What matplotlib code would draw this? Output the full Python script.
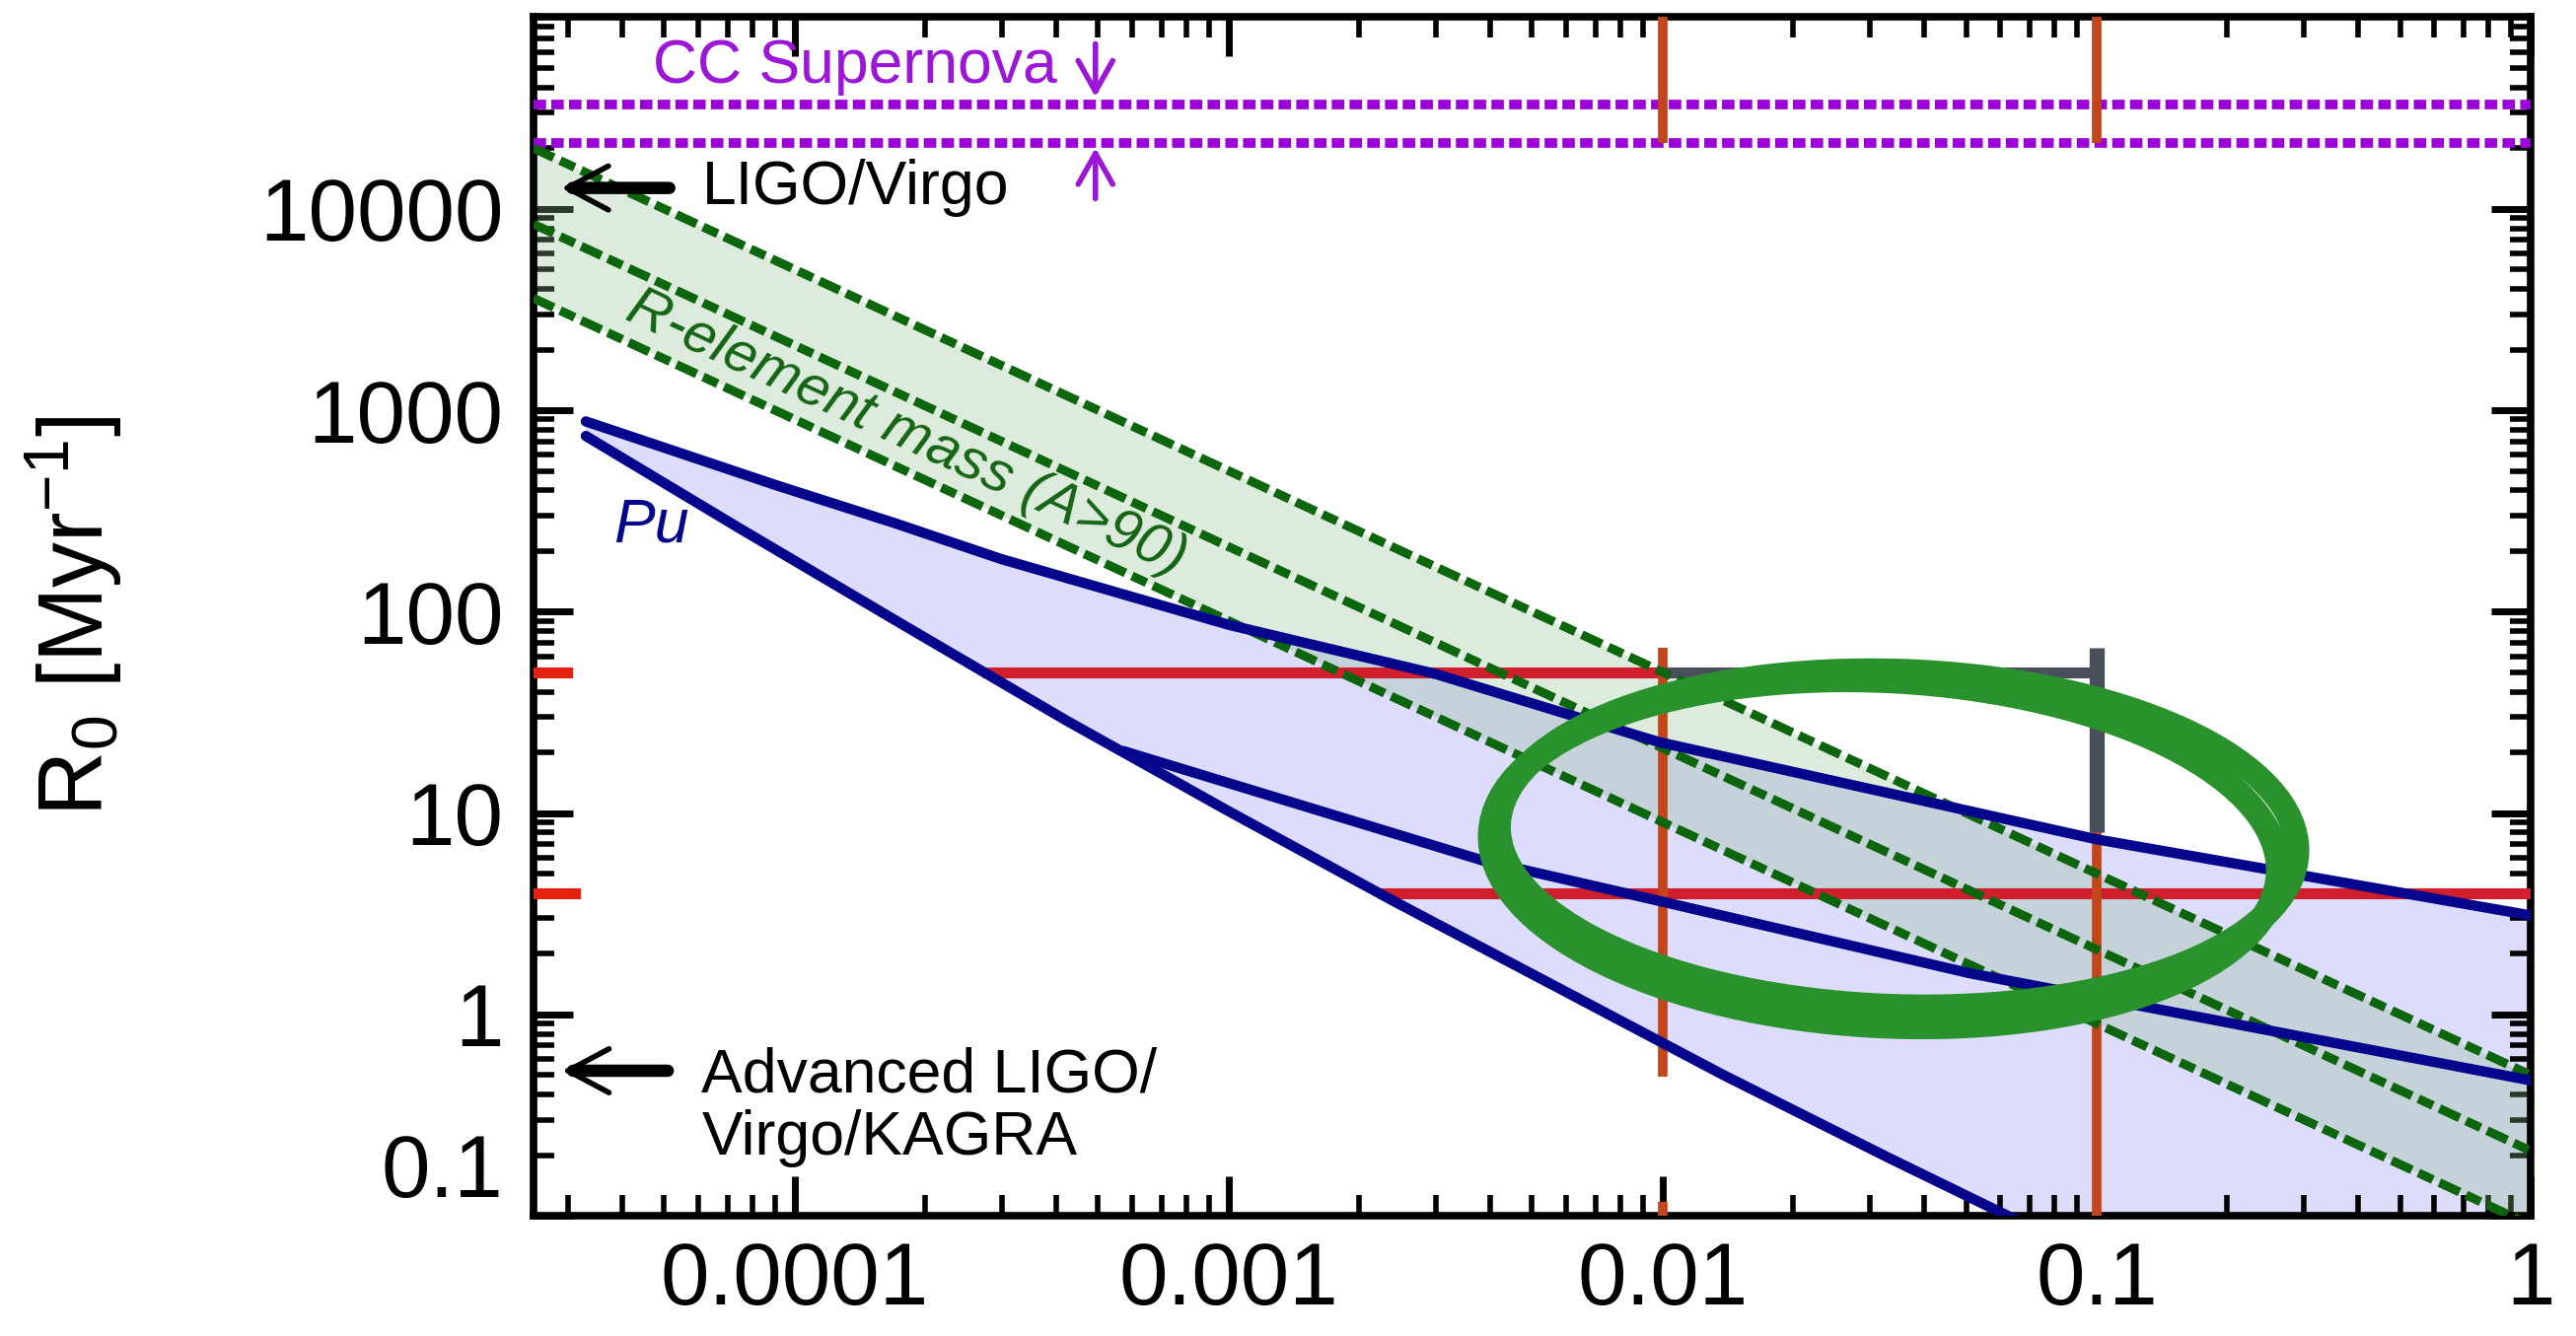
import matplotlib
matplotlib.use("Agg")
import matplotlib.pyplot as plt
from matplotlib.patches import Ellipse
from matplotlib.transforms import ScaledTranslation
from matplotlib.ticker import FixedLocator, FixedFormatter, LogLocator, NullFormatter
import numpy as np

plt.rcParams['font.family'] = ['Liberation Sans', 'DejaVu Sans']
plt.rcParams['mathtext.fontset'] = 'custom'
plt.rcParams['mathtext.rm'] = 'Liberation Sans'
plt.rcParams['mathtext.it'] = 'Liberation Sans:italic'

# --- values ---
x_ticks = [1e-4, 1e-3, 1e-2, 1e-1, 1]
x_tick_labels = ["0.0001", "0.001", "0.01", "0.1", "1"]
y_ticks = [0.1, 1, 10, 100, 1000, 10000]
y_tick_labels = ["0.1", "1", "10", "100", "1000", "10000"]

# Pu band (blue)
pu_upper_x = [3.3e-5, 9.1e-5, 1.7e-4, 3.0e-4, 1.0e-3, 3.0e-3, 9.8e-3, 0.1, 1.0]
pu_upper_y = [880, 423, 275, 182, 86, 49, 22.5, 7.4, 3.1]
pu_lower_x = [3.3e-5, 7.4e-5, 1.76e-4, 4.2e-4, 1.0e-3, 2.4e-3, 5.8e-3, 0.0138, 0.033, 0.079]
pu_lower_y = [745, 262, 87, 29, 10.2, 3.65, 1.34, 0.5, 0.195, 0.078]
pu_mid_x = [5.72e-4, 3.86e-3, 9.6e-3, 0.051, 1.0]
pu_mid_y = [20.3, 5.8, 3.7, 1.6, 0.47]

# R-element mass band (green)
r_x = [2.5e-5, 1.0]
r_top = [20000, 0.5]
r_mid = [8400, 0.21]
r_bot = [3600, 0.09]

# CC supernova levels (purple)
sn_levels = [33000, 21300]

# red horizontal constraints
red_y = [50, 4]
red_xmin = [2.7e-4, 2.2e-3]
red_xmax = [0.01, 1.0]

# orange vertical constraints
vert_x = [0.01, 0.01, 0.01, 0.1, 0.1]
vert_ymin = [21300, 0.49, 0.1, 21300, 0.1]
vert_ymax = [9e4, 66, 0.117, 9e4, 8]

# gray marks
gray_h = (50, 0.01, 0.1)
gray_v = (0.1, 8, 66)

# detector rates
ligo_rate = 12700
aligo_rate = 0.525

# --- figure ---
fig = plt.figure(figsize=(26.12, 13.55), dpi=100)
ax = fig.add_axes([0.2071, 0.0900, 0.7753, 0.8975])
ax.set_xscale("log")
ax.set_yscale("log")
ax.set_xlim(2.5e-5, 1)
ax.set_ylim(0.1, 9e4)

# blue Pu region
ax.fill(pu_upper_x + [1.0] + pu_lower_x[::-1],
        pu_upper_y + [pu_lower_y[-1]] + pu_lower_y[::-1],
        color="#dddcfb", lw=0, zorder=1)
# green band
ax.fill_between(r_x, r_bot, r_top, color="#8fbe8f", alpha=0.3, lw=0, zorder=2)

# constraint lines
for y in sn_levels:
    ax.axhline(y, color="#9b00d8", lw=7, ls=(0, (1.3, 0.55)), zorder=3)
ax.hlines(red_y, red_xmin, red_xmax, color="#d01e2c", lw=8, zorder=3)
ax.vlines(vert_x, vert_ymin, vert_ymax, color="#c2461a", lw=7, zorder=3)
ax.hlines(gray_h[0], gray_h[1], gray_h[2], color="#4b4f5c", lw=8, zorder=3)
ax.vlines(gray_v[0], gray_v[1], gray_v[2], color="#4b4f5c", lw=11, zorder=3)
for y, f in zip(red_y, [0.017, 0.021]):
    ax.axhline(y, xmin=0, xmax=f, color="#e4200e", lw=8, zorder=6)

# green dashed lines
for ys in (r_top, r_mid, r_bot):
    ax.plot(r_x, ys, color="#0d650d", lw=6.5, ls=(0, (2.5, 0.8, 1.8, 0.8)), zorder=4)

# blue lines
for xs, ys in ((pu_upper_x, pu_upper_y), (pu_lower_x, pu_lower_y), (pu_mid_x, pu_mid_y)):
    ax.plot(xs, ys, color="#06068c", lw=7.5, zorder=5, solid_capstyle="round",
            solid_joinstyle="round")

# --- annotations ---
purple = "#9b16d6"
ax.text(4.7e-5, 51000, "CC Supernova", color=purple, fontsize=45, va="center", ha="left")
ax.annotate("", xy=(4.93e-4, 35900), xytext=(4.93e-4, 66000),
            arrowprops=dict(arrowstyle="->,head_length=0.5,head_width=0.28", lw=4,
                            color=purple, mutation_scale=45, shrinkA=0, shrinkB=0))
ax.annotate("", xy=(4.93e-4, 20100), xytext=(4.93e-4, 11250),
            arrowprops=dict(arrowstyle="->,head_length=0.5,head_width=0.28", lw=4,
                            color=purple, mutation_scale=45, shrinkA=0, shrinkB=0))

# detector arrows: thick shaft, thin open head
for rate, tail, head in ((ligo_rate, 5.14e-5, 2.9e-5), (aligo_rate, 5.1e-5, 2.91e-5)):
    ax.annotate("", xy=(head * 1.06, rate), xytext=(tail, rate),
                arrowprops=dict(arrowstyle="-", lw=9, color="black",
                                shrinkA=0, shrinkB=0), zorder=7)
    ax.annotate("", xy=(head, rate), xytext=(head * 1.3, rate),
                arrowprops=dict(arrowstyle="->,head_length=0.75,head_width=0.4", lw=4,
                                color="black", mutation_scale=40, shrinkA=0, shrinkB=0),
                zorder=7)
ax.text(6.13e-5, ligo_rate, "LIGO/Virgo", fontsize=45, va="center", ha="left", zorder=7)
ax.text(6.1e-5, 0.348, "Advanced LIGO/\nVirgo/KAGRA", fontsize=45, va="center",
        ha="left", linespacing=1.1, zorder=7)

ax.text(4.68e-5, 268, "Pu", color="#06068c", fontsize=45, style="italic",
        ha="center", va="center", zorder=7)

# rotated label along the green band
p0 = ax.transData.transform((r_x[0], r_mid[0]))
p1 = ax.transData.transform((r_x[1], r_mid[1]))
angle = np.degrees(np.arctan2(p1[1] - p0[1], p1[0] - p0[0]))
ax.text(1.81e-4, 770, "R-element mass (A>90)", color="#146414", fontsize=42,
        style="italic", rotation=angle, rotation_mode="anchor",
        ha="center", va="center", zorder=7)

# hand-drawn highlight ellipse (two overlapping strokes)
for (cx, cy), w, h, rot in (((0.0348, 7.45), 8.1, 3.4, -2), ((0.0324, 6.3), 8.0, 3.5, -3)):
    ell = Ellipse((0, 0), w, h, angle=rot, fill=False, ec="#29922d", lw=18,
                  transform=fig.dpi_scale_trans + ScaledTranslation(cx, cy, ax.transData),
                  zorder=10)
    ax.add_patch(ell)

# --- axes styling ---
ax.xaxis.set_major_locator(FixedLocator(x_ticks))
ax.xaxis.set_major_formatter(FixedFormatter(x_tick_labels))
ax.yaxis.set_major_locator(FixedLocator(y_ticks))
ax.yaxis.set_major_formatter(FixedFormatter(y_tick_labels))
for axis in (ax.xaxis, ax.yaxis):
    axis.set_minor_locator(LogLocator(base=10, subs=np.arange(2, 10), numticks=50))
    axis.set_minor_formatter(NullFormatter())

ax.tick_params(which="both", direction="in", top=True, right=True, labelsize=64)
ax.tick_params(which="major", length=29, width=5)
ax.tick_params(which="minor", length=15, width=4)
ax.tick_params(axis="x", pad=18)
ax.tick_params(axis="y", pad=22)
for s in ax.spines.values():
    s.set_linewidth(5.5)
ax.yaxis.get_major_ticks()[0].label1.set_verticalalignment("bottom")

ax.set_ylabel("R$_0$ [Myr$^{-1}$]", fontsize=66)
ax.yaxis.set_label_coords(-0.205, 0.5)

fig.savefig("out.png", dpi=100)
